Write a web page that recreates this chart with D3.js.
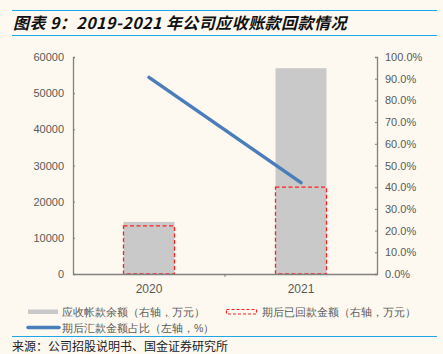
<!DOCTYPE html>
<html>
<head>
<meta charset="utf-8">
<script src="https://cdn.jsdelivr.net/npm/d3@7"></script>
<style>
    body { margin: 0; background: #fdf9f0; }
    svg { display: block; }
    text { font-family: "Liberation Sans", Arial, sans-serif; }
    .cn { font-family: "Noto Sans CJK SC", sans-serif; }
</style>
</head>
<body>
<div id="chart"></div>
<script>
// data
var years = ["2020", "2021"];
var receivable = [14400, 56900];      // 应收帐款余额
var collected = [13300, 24000];       // 期后已回款金额
var collectedRatio = [0.906, 0.421];  // 期后汇款金额占比
var leftTicks = [0, 10000, 20000, 30000, 40000, 50000, 60000];
var rightTicks = [0, 0.1, 0.2, 0.3, 0.4, 0.5, 0.6, 0.7, 0.8, 0.9, 1.0];

var width = 443, height = 354;
var plot = { left: 73, right: 377, top: 57, bottom: 274 };

var svg = d3.select("#chart")
    .append("svg")
    .attr("width", width)
    .attr("height", height);

svg.append("rect").attr("width", width).attr("height", height).attr("fill", "#fdf9f0");

// title with rules above and below
svg.append("line").attr("x1", 12).attr("x2", 437).attr("y1", 10.5).attr("y2", 10.5)
    .attr("stroke", "#1fa6e8").attr("stroke-width", 1.2);
svg.append("line").attr("x1", 12).attr("x2", 437).attr("y1", 35.5).attr("y2", 35.5)
    .attr("stroke", "#1fa6e8").attr("stroke-width", 1.2);
svg.append("text")
    .attr("class", "cn")
    .attr("x", 13).attr("y", 28.5)
    .attr("font-size", 16).attr("font-weight", "bold").attr("font-style", "italic")
    .attr("letter-spacing", 0.45)
    .attr("fill", "#111")
    .text("图表 9：2019-2021 年公司应收账款回款情况");

var x = d3.scaleBand().domain(years).range([plot.left, plot.right]).paddingInner(0).paddingOuter(0);
var yLeft = d3.scaleLinear().domain([0, 60000]).range([plot.bottom, plot.top]);
var yRight = d3.scaleLinear().domain([0, 1]).range([plot.bottom, plot.top]);

var barW = 51;
var g = svg.append("g");

// grey bars
g.selectAll(".bar")
    .data(years)
    .enter().append("rect")
    .attr("class", "bar")
    .attr("x", function(d) { return x(d) + x.bandwidth() / 2 - barW / 2; })
    .attr("width", barW)
    .attr("y", function(d, i) { return yLeft(receivable[i]); })
    .attr("height", function(d, i) { return plot.bottom - yLeft(receivable[i]); })
    .attr("fill", "#c9c9c9");

// red dashed outlines
g.selectAll(".coll")
    .data(years)
    .enter().append("rect")
    .attr("class", "coll")
    .attr("x", function(d) { return x(d) + x.bandwidth() / 2 - barW / 2; })
    .attr("width", barW)
    .attr("y", function(d, i) { return yLeft(collected[i]); })
    .attr("height", function(d, i) { return plot.bottom - yLeft(collected[i]); })
    .attr("fill", "none")
    .attr("stroke", "#ff2020")
    .attr("stroke-width", 1.3)
    .attr("stroke-dasharray", "4,2.5");

// ratio line
var line = d3.line()
    .x(function(d, i) { return x(years[i]) + x.bandwidth() / 2; })
    .y(function(d) { return yRight(d); });
g.append("path")
    .attr("d", line(collectedRatio))
    .attr("fill", "none")
    .attr("stroke", "#4a7ebb")
    .attr("stroke-width", 3.5)
    .attr("stroke-linecap", "round");

// axes
var axisColor = "#808080", labelColor = "#595959";

var leftAxis = svg.append("g")
    .attr("transform", "translate(" + plot.left + ",0)")
    .call(d3.axisLeft(yLeft).tickValues(leftTicks).tickSizeInner(-2).tickSizeOuter(-2).tickPadding(9)
        .tickFormat(d3.format("d")));
var rightAxis = svg.append("g")
    .attr("transform", "translate(" + plot.right + ",0)")
    .call(d3.axisRight(yRight).tickValues(rightTicks).tickSizeInner(-2).tickSizeOuter(-2).tickPadding(8)
        .tickFormat(d3.format(".1%")));
var bottomAxis = svg.append("g")
    .attr("transform", "translate(0," + plot.bottom + ")")
    .call(d3.axisBottom(x).tickSize(0).tickPadding(10));

// tick at band boundary below axis
svg.append("line")
    .attr("x1", x("2021")).attr("x2", x("2021"))
    .attr("y1", plot.bottom).attr("y2", plot.bottom + 3)
    .attr("stroke", axisColor);

[leftAxis, rightAxis, bottomAxis].forEach(function(a) {
    a.select(".domain").attr("stroke", axisColor).attr("stroke-width", 1.3);
    a.selectAll(".tick line").attr("stroke", axisColor);
    a.selectAll("text").attr("fill", labelColor).attr("font-size", 11)
        .attr("font-family", "Liberation Sans, Arial, sans-serif");
});
bottomAxis.selectAll("text").attr("font-size", 12);

// legend
var legend = svg.append("g").attr("class", "cn").attr("font-size", 10.5).attr("fill", labelColor);
legend.append("rect").attr("x", 28).attr("y", 309.5).attr("width", 30).attr("height", 4.5).attr("fill", "#c9c9c9");
legend.append("text").attr("x", 62).attr("y", 316).text("应收帐款余额（右轴，万元）");
legend.append("rect").attr("x", 226.5).attr("y", 309.5).attr("width", 30).attr("height", 4.5)
    .attr("fill", "none").attr("stroke", "#ff2020").attr("stroke-width", 1.2).attr("stroke-dasharray", "3,2");
legend.append("text").attr("x", 262).attr("y", 316).text("期后已回款金额（右轴，万元）");
legend.append("line").attr("x1", 28).attr("x2", 59).attr("y1", 327.5).attr("y2", 327.5)
    .attr("stroke", "#4a7ebb").attr("stroke-width", 3.5).attr("stroke-linecap", "round");
legend.append("text").attr("x", 62).attr("y", 332).text("期后汇款金额占比（左轴，%）");

// source
svg.append("line").attr("x1", 12).attr("x2", 437).attr("y1", 336.5).attr("y2", 336.5)
    .attr("stroke", "#1fa6e8").attr("stroke-width", 1.2);
svg.append("text").attr("class", "cn")
    .attr("x", 12).attr("y", 350.5)
    .attr("font-size", 12).attr("fill", "#222")
    .text("来源：公司招股说明书、国金证券研究所");
</script>
</body>
</html>
